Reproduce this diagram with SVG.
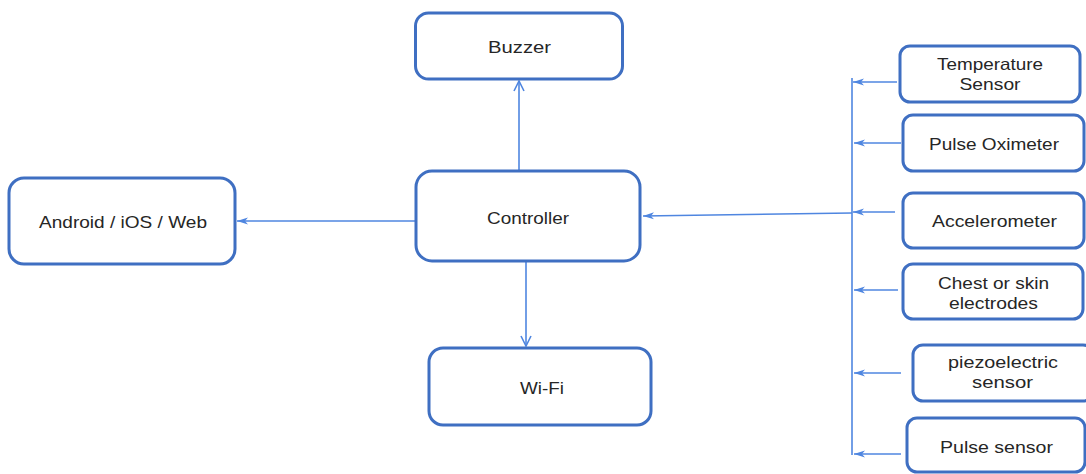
<svg xmlns="http://www.w3.org/2000/svg" width="1086" height="474" viewBox="0 0 1086 474">
  <style>
    .box { fill: #ffffff; stroke: #3f6fc2; stroke-width: 3; }
    .lbl { font-family: "Liberation Sans", Arial, sans-serif; font-size: 16.5px; fill: #262626; text-anchor: middle; }
    .wire { fill: none; stroke: #4f86e0; stroke-width: 1.6; }
  </style>
  <defs>
    <marker id="openHead" viewBox="0 0 12 12" refX="11" refY="6" markerWidth="12" markerHeight="12" markerUnits="userSpaceOnUse" orient="auto">
      <path d="M1,1 L11,6 L1,11" fill="none" stroke="#4f86e0" stroke-width="1.6"/>
    </marker>
    <marker id="solidHead" viewBox="0 0 12 10" refX="11" refY="5" markerWidth="12" markerHeight="10" markerUnits="userSpaceOnUse" orient="auto">
      <path d="M0,1.5 L11,5 L0,8.5 L3,5 Z" fill="#4f86e0"/>
    </marker>
  </defs>

  <rect width="1086" height="474" fill="#ffffff"/>

  <!-- connectors -->
  <g id="connectors">
    <line class="wire" x1="519" y1="170" x2="519" y2="81" marker-end="url(#openHead)"/>
    <line class="wire" x1="526" y1="262" x2="526" y2="346" marker-end="url(#openHead)"/>
    <line class="wire" x1="416" y1="221" x2="237" y2="221" marker-end="url(#solidHead)"/>
    <line class="wire" x1="852" y1="213" x2="643" y2="216" marker-end="url(#solidHead)"/>
    <!-- sensor bus -->
    <line class="wire" x1="852" y1="78" x2="852" y2="455"/>
    <line class="wire" x1="897" y1="82" x2="853" y2="82" marker-end="url(#solidHead)"/>
    <line class="wire" x1="901" y1="143" x2="854" y2="143" marker-end="url(#solidHead)"/>
    <line class="wire" x1="895" y1="212" x2="853" y2="212" marker-end="url(#solidHead)"/>
    <line class="wire" x1="898" y1="290" x2="854" y2="290" marker-end="url(#solidHead)"/>
    <line class="wire" x1="901" y1="373" x2="854" y2="373" marker-end="url(#solidHead)"/>
    <line class="wire" x1="901" y1="454" x2="854" y2="454" marker-end="url(#solidHead)"/>
  </g>

  <g id="buzzer">
    <rect class="box" x="415.5" y="13" width="207" height="66" rx="13"/>
    <text class="lbl" x="519.5" y="53" textLength="63" lengthAdjust="spacingAndGlyphs">Buzzer</text>
  </g>

  <g id="controller">
    <rect class="box" x="416" y="171" width="224" height="90" rx="16"/>
    <text class="lbl" x="528" y="224" textLength="82" lengthAdjust="spacingAndGlyphs">Controller</text>
  </g>

  <g id="app">
    <rect class="box" x="9" y="178" width="226" height="86" rx="15"/>
    <text class="lbl" x="123" y="228" textLength="168" lengthAdjust="spacingAndGlyphs">Android / iOS / Web</text>
  </g>

  <g id="wifi">
    <rect class="box" x="429" y="348" width="222" height="77" rx="14"/>
    <text class="lbl" x="542" y="394" textLength="44" lengthAdjust="spacingAndGlyphs">Wi-Fi</text>
  </g>

  <g id="temperature-sensor">
    <rect class="box" x="900" y="46" width="180" height="56" rx="10"/>
    <text class="lbl" x="990" y="70" textLength="106" lengthAdjust="spacingAndGlyphs">Temperature</text>
    <text class="lbl" x="990" y="90" textLength="61" lengthAdjust="spacingAndGlyphs">Sensor</text>
  </g>

  <g id="pulse-oximeter">
    <rect class="box" x="903" y="115" width="181" height="56" rx="10"/>
    <text class="lbl" x="994" y="150" textLength="130" lengthAdjust="spacingAndGlyphs">Pulse Oximeter</text>
  </g>

  <g id="accelerometer">
    <rect class="box" x="903" y="193" width="181" height="55" rx="10"/>
    <text class="lbl" x="994.5" y="227" textLength="125" lengthAdjust="spacingAndGlyphs">Accelerometer</text>
  </g>

  <g id="electrodes">
    <rect class="box" x="903" y="264" width="180" height="55" rx="10"/>
    <text class="lbl" x="993.5" y="289" textLength="111" lengthAdjust="spacingAndGlyphs">Chest or skin</text>
    <text class="lbl" x="993.5" y="309" textLength="89" lengthAdjust="spacingAndGlyphs">electrodes</text>
  </g>

  <g id="piezo-sensor">
    <rect class="box" x="913" y="345" width="180" height="56" rx="10"/>
    <text class="lbl" x="1003" y="368" textLength="110" lengthAdjust="spacingAndGlyphs">piezoelectric</text>
    <text class="lbl" x="1002.5" y="388" textLength="61" lengthAdjust="spacingAndGlyphs">sensor</text>
  </g>

  <g id="pulse-sensor">
    <rect class="box" x="907" y="418" width="178" height="54" rx="10"/>
    <text class="lbl" x="996.5" y="453" textLength="113" lengthAdjust="spacingAndGlyphs">Pulse sensor</text>
  </g>
</svg>
